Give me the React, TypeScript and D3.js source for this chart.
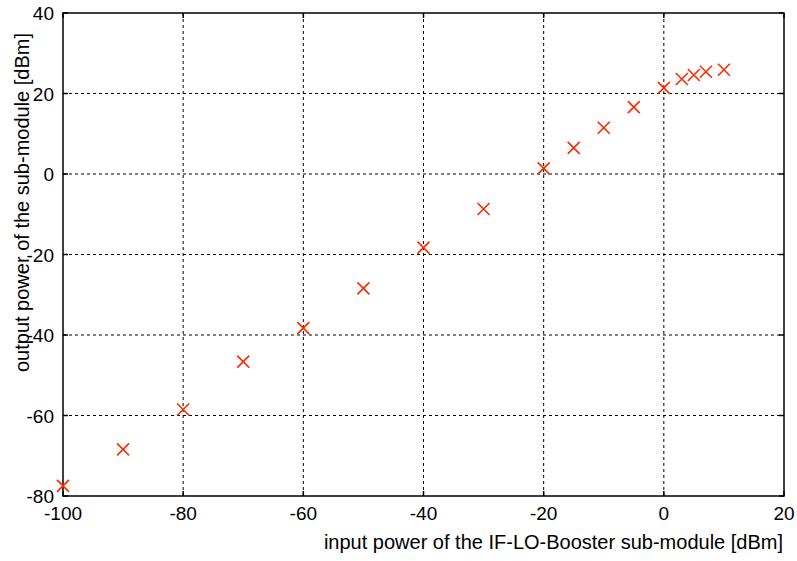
import React from "react";
import * as d3 from "d3";

const inputPower = [-100, -90, -80, -70, -60, -50, -40, -30, -20, -15, -10, -5, 0, 3, 5, 7, 10];
const outputPower = [-77.5, -68.4, -58.5, -46.6, -38.3, -28.4, -18.3, -8.7, 1.4, 6.5, 11.5, 16.6, 21.4, 23.6, 24.6, 25.4, 25.9];
const xTicks = [-100, -80, -60, -40, -20, 0, 20];
const yTicks = [-80, -60, -40, -20, 0, 20, 40];
const xLabel = "input power of the IF-LO-Booster sub-module [dBm]";
const yLabel = "output power of the sub-module [dBm]";

export default function App() {
  const W = 797, H = 561;
  const m = { left: 63, right: 784, top: 13, bottom: 496 };
  const x = d3.scaleLinear().domain([-100, 20]).range([m.left, m.right]);
  const y = d3.scaleLinear().domain([-80, 40]).range([m.bottom, m.top]);
  const font = "'Liberation Sans', Arial, Helvetica, sans-serif";
  const ms = 6;
  return (
    <svg width={W} height={H} style={{ position: "absolute", left: 0, top: 0 }}>
      <rect width={W} height={H} fill="#fff" />
      {xTicks.slice(1, -1).map((t) => (
        <line key={"gx" + t} x1={x(t)} x2={x(t)} y1={m.top} y2={m.bottom} stroke="#000" strokeWidth={1} strokeDasharray="3,3" />
      ))}
      {yTicks.slice(1, -1).map((t) => (
        <line key={"gy" + t} x1={m.left} x2={m.right} y1={y(t)} y2={y(t)} stroke="#000" strokeWidth={1} strokeDasharray="3,3" />
      ))}
      {xTicks.map((t) => (
        <g key={"tx" + t}>
          <line x1={x(t)} x2={x(t)} y1={m.bottom} y2={m.bottom - 5} stroke="#000" strokeWidth={1.5} />
          <line x1={x(t)} x2={x(t)} y1={m.top} y2={m.top + 5} stroke="#000" strokeWidth={1.5} />
          <text x={x(t)} y={520} textAnchor="middle" fontFamily={font} fontSize={19} fill="#000">{t}</text>
        </g>
      ))}
      {yTicks.map((t) => (
        <g key={"ty" + t}>
          <line x1={m.left} x2={m.left + 5} y1={y(t)} y2={y(t)} stroke="#000" strokeWidth={1.5} />
          <line x1={m.right} x2={m.right - 5} y1={y(t)} y2={y(t)} stroke="#000" strokeWidth={1.5} />
          <text x={54} y={y(t) + 7} textAnchor="end" fontFamily={font} fontSize={19} fill="#000">{t}</text>
        </g>
      ))}
      <rect x={m.left} y={m.top} width={m.right - m.left} height={m.bottom - m.top} fill="none" stroke="#000" strokeWidth={1.5} />
      {inputPower.map((v, i) => {
        const cx = x(v), cy = y(outputPower[i]);
        return (
          <path key={"p" + i} d={`M${cx - ms},${cy - ms}L${cx + ms},${cy + ms}M${cx - ms},${cy + ms}L${cx + ms},${cy - ms}`} stroke="#ff2a00" strokeWidth={1.6} fill="none" />
        );
      })}
      <text x={783} y={549} textAnchor="end" fontFamily={font} fontSize={20} fill="#000">{xLabel}</text>
      <text transform={`translate(29,202.5) rotate(-90)`} textAnchor="middle" fontFamily={font} fontSize={20} fill="#000">{yLabel}</text>
    </svg>
  );
}
